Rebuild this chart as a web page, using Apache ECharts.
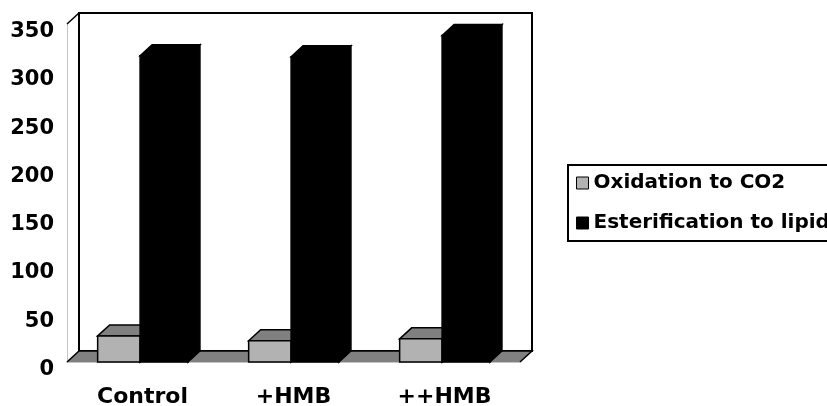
<!DOCTYPE html>
<html>
<head>
<meta charset="utf-8">
<script src="https://cdn.jsdelivr.net/npm/echarts@6/dist/echarts.min.js"></script>
<style>
  html, body { margin: 0; padding: 0; background: #fff; }
  #chart { width: 827px; height: 406px; }
</style>
</head>
<body>
<div id="chart"></div>
<script>
// Fatty acid fate per treatment group
const categories = ['Control', '+HMB', '++HMB'];
const oxidationValues = [27, 22, 24];
const esterificationValues = [317, 316, 338];
const seriesNames = ['Oxidation to CO2', 'Esterification to lipid'];
const yTicks = { min: 0, max: 350, interval: 50 };

// pseudo-3D depth offset of the box, in pixels
const DX = 12;
const DY = 11;
const FONT = 'DejaVu Sans';

const chart = echarts.init(document.getElementById('chart'));

// one 3D column: front face, top face and right side face
function column(api, x0, x1, faces) {
  const ci = api.value(0);
  const v = api.value(1);
  const top = api.coord([ci, v]);
  const base = api.coord([ci, 0]);
  const band = api.size([1, 0])[0];
  const L = top[0] + x0 * band;
  const R = top[0] + x1 * band;
  const T = top[1];
  const B = base[1];
  const stroke = { stroke: '#000', lineWidth: 1.5, lineJoin: 'miter' };
  return {
    type: 'group',
    children: [
      { type: 'polygon', shape: { points: [[R, T], [R + DX, T - DY], [R + DX, B - DY], [R, B]] },
        style: Object.assign({ fill: faces.side }, stroke) },
      { type: 'polygon', shape: { points: [[L, T], [L + DX, T - DY], [R + DX, T - DY], [R, T]] },
        style: Object.assign({ fill: faces.top }, stroke) },
      { type: 'rect', shape: { x: L, y: T, width: R - L, height: B - T },
        style: Object.assign({ fill: faces.front }, stroke) }
    ]
  };
}

// back wall and floor of the box
function frame(params) {
  const cs = params.coordSys;
  const x = cs.x, y = cs.y, w = cs.width, h = cs.height;
  return {
    type: 'group',
    children: [
      { type: 'polygon',
        shape: { points: [[x + DX, y - DY], [x + w + DX, y - DY], [x + w + DX, y + h - DY], [x + DX, y + h - DY]] },
        style: { fill: '#fff', stroke: '#000', lineWidth: 2 } },
      { type: 'line', shape: { x1: x, y1: y, x2: x + DX, y2: y - DY },
        style: { stroke: '#000', lineWidth: 1.5 } },
      { type: 'polygon',
        shape: { points: [[x, y + h], [x + DX, y + h - DY], [x + w + DX, y + h - DY], [x + w, y + h]] },
        style: { fill: '#808080' } },
      { type: 'polyline',
        shape: { points: [[x, y + h], [x + DX, y + h - DY], [x + w + DX, y + h - DY], [x + w, y + h]] },
        style: { stroke: '#000', lineWidth: 1.5, fill: null } }
    ]
  };
}

const option = {
  animation: false,
  backgroundColor: '#fff',
  grid: { left: 67, right: 307, top: 24, bottom: 44, containLabel: false, outerBoundsMode: 'none' },
  legend: {
    orient: 'vertical',
    left: 568,
    top: 165,
    padding: [8, 80, 8, 8],
    itemGap: 20,
    itemWidth: 12,
    itemHeight: 12,
    borderColor: '#000',
    borderWidth: 2,
    borderRadius: 0,
    selectedMode: false,
    textStyle: { fontFamily: FONT, fontWeight: 'bold', fontSize: 20, color: '#000' },
    data: [
      { name: seriesNames[0], icon: 'rect', itemStyle: { color: '#b2b2b2', borderColor: '#000', borderWidth: 1 } },
      { name: seriesNames[1], icon: 'rect', itemStyle: { color: '#000', borderColor: '#000', borderWidth: 1 } }
    ]
  },
  xAxis: {
    type: 'category',
    data: categories,
    offset: 1.5,
    axisLine: { show: true, lineStyle: { color: '#c4c4c4', width: 1 } },
    axisTick: { show: false },
    splitLine: { show: false },
    axisLabel: { margin: 23, fontFamily: FONT, fontWeight: 'bold', fontSize: 22, color: '#000' }
  },
  yAxis: {
    type: 'value',
    min: yTicks.min,
    max: yTicks.max,
    interval: yTicks.interval,
    axisLine: { show: true, lineStyle: { color: '#c4c4c4', width: 1 } },
    axisTick: { show: false },
    splitLine: { show: false },
    axisLabel: {
      margin: 13, fontFamily: FONT, fontWeight: 'bold', fontSize: 21, color: '#000',
      verticalAlign: 'top', lineHeight: 15
    }
  },
  series: [
    {
      type: 'custom',
      name: 'frame',
      silent: true,
      z: 1,
      data: [[0, 0]],
      encode: { x: 0, y: 1 },
      renderItem: (params) => frame(params)
    },
    {
      type: 'custom',
      name: seriesNames[0],
      z: 2,
      itemStyle: { color: '#b2b2b2' },
      data: categories.map((c, i) => [i, oxidationValues[i]]),
      encode: { x: 0, y: 1 },
      renderItem: (params, api) => column(api, -0.297, -0.016, { front: '#b2b2b2', top: '#808080', side: '#5a5a5a' })
    },
    {
      type: 'custom',
      name: seriesNames[1],
      z: 3,
      itemStyle: { color: '#000' },
      data: categories.map((c, i) => [i, esterificationValues[i]]),
      encode: { x: 0, y: 1 },
      renderItem: (params, api) => column(api, -0.016, 0.301, { front: '#000', top: '#000', side: '#000' })
    }
  ]
};

chart.setOption(option);
</script>
</body>
</html>
